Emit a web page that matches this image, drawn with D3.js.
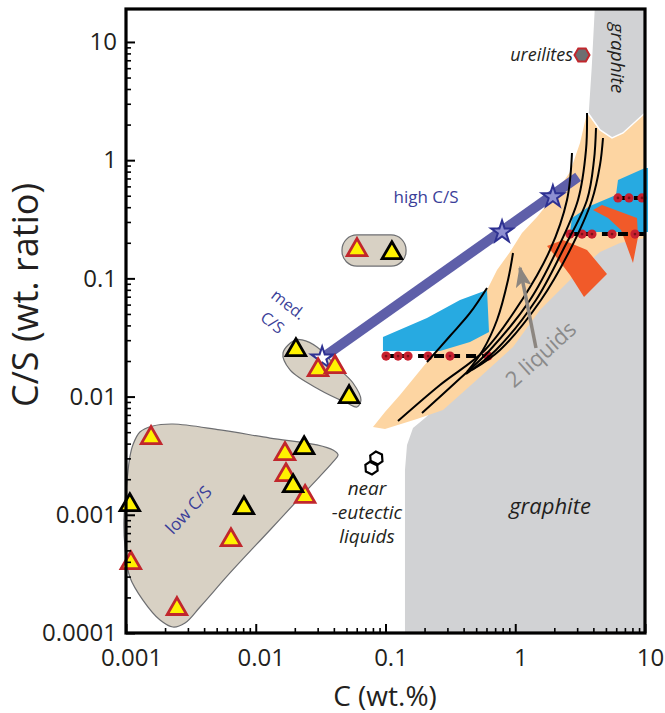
<!DOCTYPE html>
<html><head><meta charset="utf-8">
<script src="https://cdn.jsdelivr.net/npm/d3@7"></script>
<style>
body{margin:0;background:#fff}
svg{display:block}
text{font-family:"Open Sans",sans-serif}
</style>
</head><body>
<svg id="chart" width="665" height="713"></svg>
<script>
// ---------- DATA (C wt.%, C/S wt. ratio) ----------
const xTicks = [0.001, 0.01, 0.1, 1, 10];
const xTickLabels = ["0.001", "0.01", "0.1", "1", "10"];
const yTicks = [0.0001, 0.001, 0.01, 0.1, 1, 10];
const yTickLabels = ["0.0001", "0.001", "0.01", "0.1", "1", "10"];

const redTriangles = [[0.0603,0.174],[0.0302,0.0168],[0.0408,0.0178],[0.00156,0.00447],[0.0168,0.00327],
  [0.0171,0.00217],[0.0240,0.00142],[0.00644,0.000612],[0.00109,0.000391],[0.00247,0.000160]];
const blackTriangles = [[0.112,0.164],[0.0204,0.0248],[0.0524,0.00993],[0.0236,0.00367],[0.0194,0.00175],
  [0.00107,0.00121],[0.00811,0.00114]];

const trendLine = [[0.0325,0.0212],[3.05,0.721]];
const starStart = [[0.0325,0.0212]];
const starPoints = [[0.791,0.247],[1.95,0.489]];
const ureilites = [[3.27,7.76]];
const eutecticLiquids = [[0.0780,0.00250],[0.0850,0.00300]];

const lowBlob = [[0.00113,0.00390],[0.00128,0.00502],[0.00161,0.00564],[0.00230,0.00586],[0.00530,0.00522],
  [0.01288,0.00446],[0.02965,0.00390],[0.0394,0.00353],[0.0431,0.00321],[0.0394,0.00280],[0.02483,0.00162],
  [0.01288,0.000744],[0.00633,0.000322],[0.00372,0.000166],[0.00285,0.0001215],[0.00230,0.0001124],
  [0.00183,0.0001288],[0.00135,0.000190],[0.00107,0.000298],[0.000982,0.000534],[0.000965,0.000904],
  [0.00102,0.00197],[0.00107,0.00308]];
const medBlob = [[0.02007,0.03013],[0.01622,0.02339],[0.01837,0.01679],[0.03126,0.01138],[0.05047,0.00883],
  [0.06025,0.00817],[0.06471,0.00935],[0.0562,0.01303],[0.04226,0.01778],[0.02965,0.02630],[0.02270,0.03013]];
const highPillX = [0.0462, 0.144];
const highPillY = [0.127, 0.233];

const graphiteLow = [[0.1413,0.0001],[0.1413,0.002393],[0.1465,0.003894],[0.1629,0.005424],[0.2016,0.006592],
  [0.3141,0.01031],[0.6389,0.02249],[1.088,0.04446],[1.788,0.09144],[2.887,0.1578],[5.374,0.2197],
  [10,0.2669],[10,0.0001]];
const graphiteTop = [[4.045,19],[3.836,6.145],[3.637,2.507],[4.500,1.801],[5.568,1.541],[6.767,1.699],
  [10,2.507],[10,19]];
const orangeBand = [[0.0801,0.00553],[0.0991,0.00741],[0.1293,0.01032],[0.2088,0.01962],[0.263,0.02577],
  [0.606,0.0798],[0.7236,0.1178],[0.911,0.1672],[1.127,0.2422],[1.471,0.3307],[1.954,0.4883],[2.642,0.7947],
  [3.155,1.398],[3.573,2.507],[4.500,1.801],[5.568,1.541],[6.767,1.699],[10,2.507],[10,0.2197],
  [6.417,0.1993],[4.500,0.1672],[3.155,0.1178],[2.333,0.0846],[1.551,0.0540],[0.961,0.0263],
  [0.535,0.01465],[0.2775,0.00770],[0.1749,0.00646],[0.0991,0.00532]];
const blueLeft = [[0.0956,0.03193],[0.0956,0.02431],[0.263,0.02431],[0.448,0.02897],[0.6277,0.03520],
  [0.606,0.0798],[0.3752,0.06567],[0.2088,0.04624]];
const blueRight = [[2.642,0.2470],[2.737,0.3243],[3.768,0.4097],[5.977,0.5077],[6.193,0.6801],
  [10,0.859],[10.55,0.859],[10.55,0.2470]];
const redOrange1 = [[1.757,0.1879],[2.333,0.2113],[3.573,0.1739],[5.094,0.1089],[3.388,0.06961],
  [2.642,0.1069],[2.097,0.1488]];
const redOrange2 = [[3.974,0.3791],[4.662,0.4178],[8.677,0.3243],[8.832,0.2240],[8.08,0.1350],
  [6.531,0.2568],[5.186,0.3243]];

const curves = [
  [[0.2088,0.01962],[0.3141,0.03256],[0.448,0.05097],[0.606,0.08293]],
  [[0.4248,0.01615],[0.5642,0.02479],[0.7236,0.04446],[0.8794,0.09695],[0.961,0.1640]],
  [[0.1248,0.006218],[0.263,0.01254],[0.5846,0.02479],[1.127,0.06567],[1.853,0.1739],[2.505,0.4606],[2.737,1.151]],
  [[0.1911,0.007264],[0.3433,0.01303],[0.6389,0.02479],[1.299,0.06567],[2.097,0.1739],[3.045,0.4606],[3.510,1.220],[3.573,2.507]],
  [[0.4173,0.01553],[0.7106,0.02479],[1.445,0.06567],[2.333,0.1739],[3.573,0.4606],[4.045,1.004],[4.192,1.872]],
  [[0.4642,0.01679],[0.7627,0.02479],[1.579,0.06567],[2.642,0.1739],[3.904,0.4606],[4.500,0.9108],[4.746,1.541]]
];

const lowerDashY = 0.022, lowerDashX = [0.101, 0.617], lowerDots = [0.101,0.125,0.149,0.213,0.314,0.617];
const upperDashY = 0.237, upperDashX = [2.64, 10], upperDots = [2.64,3.27,3.90,5.57,8.37];
const topDashY = 0.479, topDashX = [6.19, 10], topDots = [6.19,7.53,9.48];

const liquidsArrow = [[1.445,0.02577],[1.088,0.1225]];

// ---------- LAYOUT ----------
const svg = d3.select("#chart");
const x = d3.scaleLog().domain([0.001, 10]).range([126, 645]);
const y = d3.scaleLog().domain([0.0001, 19]).range([633, 9]);
const line = d3.line().x(d => x(d[0])).y(d => y(d[1]));
const poly = d3.line().x(d => x(d[0])).y(d => y(d[1])).curve(d3.curveLinearClosed);
const smooth = d3.line().x(d => x(d[0])).y(d => y(d[1])).curve(d3.curveCatmullRomClosed.alpha(0.5));
const curveLine = d3.line().x(d => x(d[0])).y(d => y(d[1])).curve(d3.curveCatmullRom.alpha(0.5));

const defs = svg.append("defs");
defs.append("marker").attr("id","arr").attr("markerUnits","userSpaceOnUse")
  .attr("markerWidth",22).attr("markerHeight",16).attr("refX",19).attr("refY",8).attr("orient","auto")
  .append("path").attr("d","M0,0 L21,8 L0,16 L5,8 Z").attr("fill","#8c8680");

// background regions
svg.append("path").attr("d", poly(graphiteLow)).attr("fill","#d1d2d4");
svg.append("path").attr("d", poly(orangeBand)).attr("fill","#fdd5a2");
svg.append("path").attr("d", poly(graphiteTop)).attr("fill","#d1d2d4").attr("stroke","#fff").attr("stroke-width",1.5);
svg.append("path").attr("d", poly(blueLeft)).attr("fill","#27aae1");
svg.append("path").attr("d", poly(blueRight)).attr("fill","#27aae1");
svg.append("path").attr("d", poly(redOrange1)).attr("fill","#f15a29");
svg.append("path").attr("d", poly(redOrange2)).attr("fill","#f15a29");

// dashed lines with dots
function dashRow(xs, yv, dots){
  svg.append("path").attr("d", line(xs.map(v=>[v,yv]))).attr("stroke","#000").attr("stroke-width",4)
    .attr("stroke-dasharray","10,6").attr("fill","none");
  const g = svg.append("g");
  g.selectAll("circle.o").data(dots).join("circle").attr("cx",d=>x(d)).attr("cy",y(yv)).attr("r",4.6).attr("fill","#c8202f");
  g.selectAll("circle.i").data(dots).join("circle").attr("cx",d=>x(d)).attr("cy",y(yv)).attr("r",1.4).attr("fill","#7d1018");
}
dashRow(lowerDashX, lowerDashY, lowerDots);
dashRow(upperDashX, upperDashY, upperDots);
dashRow(topDashX, topDashY, topDots);

// trend line
svg.append("path").attr("d", line(trendLine)).attr("stroke","#5e5fa9").attr("stroke-width",10).attr("fill","none");

// black curves
svg.append("g").selectAll("path").data(curves).join("path").attr("d", d=>curveLine(d))
  .attr("stroke","#000").attr("stroke-width",2).attr("fill","none");

// arrow + label
svg.append("path").attr("d", line(liquidsArrow)).attr("stroke","#8c8680").attr("stroke-width",3.5)
  .attr("fill","none").attr("marker-end","url(#arr)");
svg.append("text").attr("transform","translate(546,360) rotate(-42)").attr("text-anchor","middle")
  .attr("font-size",22).attr("fill","#8a8a8a").text("2 liquids");

// blobs
svg.append("path").attr("d", smooth(lowBlob)).attr("fill","#d8d1c4").attr("stroke","#6d6e71").attr("stroke-width",1.2);
svg.append("path").attr("d", smooth(medBlob)).attr("fill","#d8d1c4").attr("stroke","#6d6e71").attr("stroke-width",1.2);
svg.append("rect").attr("x",x(highPillX[0])).attr("y",y(highPillY[1]))
  .attr("width",x(highPillX[1])-x(highPillX[0])).attr("height",y(highPillY[0])-y(highPillY[1]))
  .attr("rx",15).attr("fill","#d8d1c4").attr("stroke","#6d6e71").attr("stroke-width",1.2);

// stars
const star = d3.symbol().type(d3.symbolStar).size(150);
svg.append("g").selectAll("path").data(starStart).join("path").attr("d",star)
  .attr("transform",d=>`translate(${x(d[0])},${y(d[1])})`).attr("fill","#fff").attr("stroke","#2e3192").attr("stroke-width",2);
svg.append("g").selectAll("path").data(starPoints).join("path").attr("d",star)
  .attr("transform",d=>`translate(${x(d[0])},${y(d[1])})`).attr("fill","#8f90d2").attr("stroke","#2e3192").attr("stroke-width",2);

// triangles
const tri = d3.symbol().type(d3.symbolTriangle).size(165);
svg.append("g").selectAll("path").data(redTriangles).join("path").attr("d",tri)
  .attr("transform",d=>`translate(${x(d[0])},${y(d[1])})`).attr("fill","#fff200").attr("stroke","#c1272d").attr("stroke-width",2.8);
svg.append("g").selectAll("path").data(blackTriangles).join("path").attr("d",tri)
  .attr("transform",d=>`translate(${x(d[0])},${y(d[1])})`).attr("fill","#fff200").attr("stroke","#000").attr("stroke-width",2.8);

// hexagons
function hexPath(r, rot){
  const p = d3.path();
  for(let k=0;k<6;k++){const a=rot+k*Math.PI/3; const px=r*Math.cos(a), py=r*Math.sin(a); k?p.lineTo(px,py):p.moveTo(px,py);}
  p.closePath(); return p.toString();
}
svg.append("g").selectAll("path").data(ureilites).join("path").attr("d",hexPath(7.5,0))
  .attr("transform",d=>`translate(${x(d[0])},${y(d[1])})`).attr("fill","#6d6e71").attr("stroke","#c1272d").attr("stroke-width",2);
svg.append("g").selectAll("path").data(eutecticLiquids).join("path").attr("d",hexPath(6.8,0.45))
  .attr("transform",d=>`translate(${x(d[0])},${y(d[1])})`).attr("fill","none").attr("stroke","#000").attr("stroke-width",2.2);

// annotations
const blue = "#3b3f99";
svg.append("text").attr("x",426).attr("y",203).attr("text-anchor","middle").attr("font-size",17).attr("fill",blue).text("high C/S");
svg.append("text").attr("transform","translate(285,309) rotate(38)").attr("text-anchor","middle").attr("font-size",16).attr("fill",blue).text("med.");
svg.append("text").attr("transform","translate(269,327) rotate(38)").attr("text-anchor","middle").attr("font-size",16).attr("fill",blue).text("C/S");
svg.append("text").attr("transform","translate(193,514) rotate(-47)").attr("text-anchor","middle").attr("font-size",17).attr("fill",blue).text("low C/S");
const it = (t,xx,yy,fs,anchor="middle") => svg.append("text").attr("x",xx).attr("y",yy).attr("text-anchor",anchor)
  .attr("font-size",fs).attr("font-style","italic").attr("fill","#231f20").text(t);
it("near",367,495,19); it("-eutectic",367,519,19); it("liquids",367,543,19);
it("ureilites",573,61,18,"end");
it("graphite",550,514,22);
svg.append("text").attr("transform","translate(617,58) rotate(90)").attr("text-anchor","middle").attr("dy","0.3em")
  .attr("font-size",19).attr("font-style","italic").attr("fill","#231f20").text("graphite");

// axes
const isMajor = d => Math.abs(Math.log10(d) - Math.round(Math.log10(d))) < 1e-6;
const yMinor = y.ticks().filter(d => !isMajor(d));
const xMinor = x.ticks().filter(d => !isMajor(d));
const gy = svg.append("g").attr("transform","translate(126,0)")
  .call(d3.axisLeft(y).tickValues(yTicks).tickFormat((d,i)=>yTickLabels[i]).tickSize(-9).tickPadding(9));
const gy2 = svg.append("g").attr("transform","translate(126,0)")
  .call(d3.axisLeft(y).tickValues(yMinor).tickFormat("").tickSize(-5));
const gx = svg.append("g").attr("transform","translate(0,633)")
  .call(d3.axisBottom(x).tickValues(xTicks).tickFormat((d,i)=>xTickLabels[i]).tickSize(-9).tickPadding(16));
const gx2 = svg.append("g").attr("transform","translate(0,633)")
  .call(d3.axisBottom(x).tickValues(xMinor).tickFormat("").tickSize(-5));
[gy,gy2,gx,gx2].forEach(g=>{g.select(".domain").remove(); g.selectAll("line").attr("stroke","#000").attr("stroke-width",1.6);});
[gy,gx].forEach(g=>g.selectAll("line").attr("stroke-width",2));
gy.selectAll("text").attr("font-size",24).attr("font-family","'Open Sans',sans-serif").attr("fill","#231f20");
gx.selectAll("text").attr("font-size",24).attr("font-family","'Open Sans',sans-serif").attr("fill","#231f20").attr("dx",5);

// frame
svg.append("rect").attr("x",126).attr("y",9).attr("width",645-126).attr("height",633-9)
  .attr("fill","none").attr("stroke","#000").attr("stroke-width",3.2);

// titles
svg.append("text").attr("x",385).attr("y",706).attr("text-anchor","middle").attr("font-size",28).attr("fill","#231f20").text("C (wt.%)");
svg.append("text").attr("transform","translate(38,295) rotate(-90)").attr("text-anchor","middle").attr("font-size",36).attr("fill","#231f20").text("C/S (wt. ratio)");
</script>
</body></html>
